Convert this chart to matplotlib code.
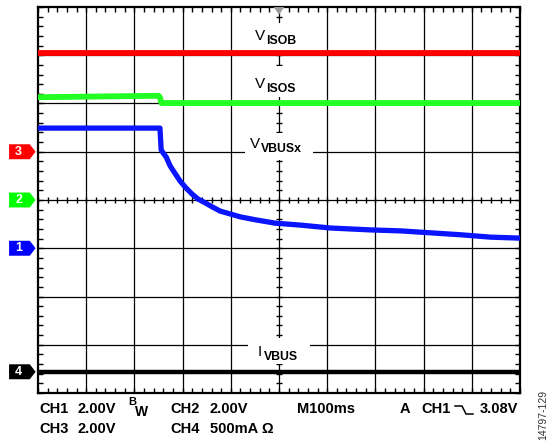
import matplotlib
matplotlib.use("Agg")
import matplotlib.pyplot as plt
from matplotlib.patches import Polygon, Rectangle
from matplotlib.lines import Line2D
import numpy as np

plt.rcParams["font.family"] = ["Liberation Sans", "DejaVu Sans"]

W, H = 551, 444

# ── Trace data (screen divisions: x 0..10, y 0..8) ──────────────
visob_x = [0.0, 10.0]
visob_y = [7.04, 7.04]

visos_x = [0.0, 2.50, 2.53, 2.56, 10.0]
visos_y = [6.13, 6.16, 6.13, 6.01, 6.01]

vvbus_x = [0.0, 2.50, 2.53, 2.555, 2.60, 2.66, 2.74, 2.85, 2.95, 3.07,
           3.20, 3.32, 3.47, 3.61, 3.78, 3.99, 4.20, 4.51, 4.92, 5.44,
           6.06, 6.90, 7.52, 8.14, 8.76, 9.39, 10.0]
vvbus_y = [5.49, 5.49, 5.49, 5.04, 4.97, 4.89, 4.71, 4.54, 4.39, 4.25,
           4.12, 4.02, 3.94, 3.86, 3.77, 3.71, 3.65, 3.59, 3.52, 3.48,
           3.42, 3.38, 3.36, 3.32, 3.28, 3.23, 3.21]

ivbus_x = [0.0, 10.0]
ivbus_y = [0.44, 0.44]

# channel ground markers: (label, level, colour)
markers = [("3", 5.0, "#ff0000"), ("2", 4.0, "#00ff00"),
           ("1", 3.0, "#0000ff"), ("4", 0.44, "#000000")]

# trace labels: (main, subscript, left px, baseline px, white box px)
labels = [("V", "ISOB", 255, 40, (249, 23, 308, 50)),
          ("V", "ISOS", 255, 88, (249, 66, 308, 97)),
          ("V", "VBUSx", 250, 148, (245, 133, 313, 160)),
          ("I", "VBUS", 258, 356, (248, 338, 310, 364))]


def px(x, y):
    """pixel -> figure fraction"""
    return x / W, 1 - y / H


fig = plt.figure(figsize=(W / 100, H / 100), dpi=100)
fig.patch.set_facecolor("white")
ax = fig.add_axes([38 / W, (H - 393) / H, 482 / W, 386 / H])
ax.set_xlim(0, 10)
ax.set_ylim(0, 8)

# graticule
for gx in range(1, 10):
    ax.axvline(gx, color="black", lw=0.9, zorder=1)
for gy in range(1, 8):
    ax.axhline(gy, color="black", lw=0.9, zorder=1)

fine_x = np.arange(0, 10.001, 0.2)
fine_y = np.arange(0, 8.001, 0.2)
ax.set_xticks(fine_x)
ax.set_yticks(fine_y)
ax.tick_params(direction="in", length=3.5, width=1.0, top=True, right=True,
               labelbottom=False, labelleft=False)
for sp in ax.spines.values():
    sp.set_linewidth(1.6)

# centre-line crossing ticks
ax.plot(fine_x, np.full_like(fine_x, 4.0), ls="none", marker="|",
        ms=5, mew=1.0, color="black", zorder=2)
ax.plot(np.full_like(fine_y, 5.0), fine_y, ls="none", marker="_",
        ms=5, mew=1.0, color="black", zorder=2)

# labels with white background
for main, sub, lx, by, (x0, y0, x1, y1) in labels:
    fig.add_artist(Rectangle(px(x0, y1), (x1 - x0) / W, (y1 - y0) / H,
                             transform=fig.transFigure, facecolor="white",
                             edgecolor="none", zorder=3))
    fx, fy = px(lx, by)
    fig.text(fx, fy, main, fontsize=11, va="baseline", zorder=4)
    fx, fy = px(lx + (11 if main == "V" else 6), by + 4)
    fig.text(fx, fy, sub, fontsize=8.8, fontweight="bold", va="baseline",
             zorder=4)

# traces
ax.plot(visob_x, visob_y, color="#ff0000", lw=4.2, zorder=4)
ax.plot(visos_x, visos_y, color="#22ff22", lw=4.2, zorder=4)
ax.plot(vvbus_x, vvbus_y, color="#0a14ff", lw=3.8, zorder=4,
        solid_joinstyle="round")
ax.plot(ivbus_x, ivbus_y, color="black", lw=3.2, zorder=4)

# trigger position marker
ax.add_patch(Polygon([[4.89, 8.0], [5.11, 8.0], [5.0, 7.84]], closed=True,
                     facecolor="#999999", edgecolor="none", clip_on=False,
                     zorder=5))

# channel markers on the left
hh = 0.155
for num, lvl, col in markers:
    poly = Polygon([[-0.60, lvl - hh], [-0.17, lvl - hh], [-0.05, lvl],
                    [-0.17, lvl + hh], [-0.60, lvl + hh]], closed=True,
                   facecolor=col, edgecolor="none", clip_on=False, zorder=5)
    ax.add_patch(poly)
    ax.text(-0.40, lvl, num, color="white", fontsize=9, fontweight="bold",
            ha="center", va="center", clip_on=False, zorder=6)

# status text along the bottom
fs = 10.5
row1, row2 = 413, 433
for txt, x0, y0 in [("CH1", 39, row1), ("2.00V", 78, row1),
                    ("CH2", 170, row1), ("2.00V", 210, row1),
                    ("M100ms", 297, row1), ("A", 400, row1),
                    ("CH1", 421, row1), ("3.08V", 480, row1),
                    ("CH3", 39, row2), ("2.00V", 78, row2),
                    ("CH4", 170, row2), ("500mA \u03a9", 210, row2)]:
    fx, fy = px(x0, y0)
    fig.text(fx, fy, txt, fontsize=fs, fontweight="bold", va="baseline")

fx, fy = px(128, 405)
fig.text(fx, fy, "B", fontsize=8, fontweight="bold", va="baseline")
fx, fy = px(135, 416)
fig.text(fx, fy, "W", fontsize=10, fontweight="bold", va="baseline")

# falling-edge trigger symbol
sx = [455, 462, 466, 473]
sy = [406, 406, 414, 414]
fig.add_artist(Line2D([x / W for x in sx], [1 - y / H for y in sy],
                      color="black", lw=1.1))

fx, fy = px(543, 415)
fig.text(fx, fy, "14797-129", fontsize=7.5, rotation=90, color="#333333",
         ha="center", va="center")

fig.savefig("out.png", dpi=100, facecolor="white")
